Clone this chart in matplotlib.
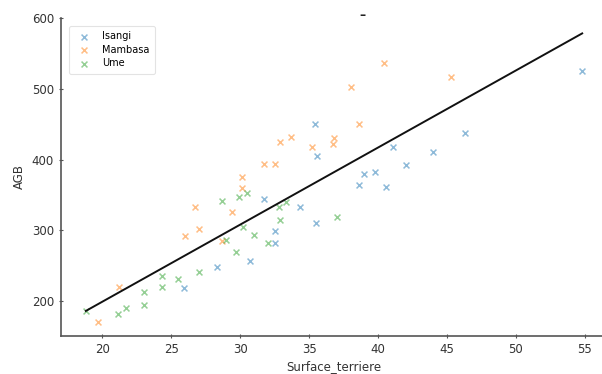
import numpy as np
import matplotlib
matplotlib.use("Agg")
import matplotlib.pyplot as plt

# values
isangi_x = [25.9, 28.3, 30.7, 31.7, 32.5, 32.5, 34.3, 35.4, 35.6, 35.5,
            38.6, 39.0, 39.8, 40.6, 41.1, 42.0, 44.0, 46.3, 54.8]
isangi_y = [218, 248, 256, 344, 282, 299, 333, 450, 405, 310,
            364, 379, 382, 361, 418, 392, 410, 437, 525]

mambasa_x = [19.7, 21.2, 26.0, 26.7, 27.0, 28.7, 29.4, 30.1, 30.1, 31.7, 32.5,
             32.9, 33.7, 35.2, 36.7, 36.8, 38.0, 38.6, 40.4, 45.3]
mambasa_y = [170, 219, 292, 333, 302, 285, 326, 360, 375, 393, 393,
             425, 432, 418, 422, 430, 502, 450, 537, 517]

ume_x = [18.8, 21.1, 21.7, 23.0, 23.0, 24.3, 24.3, 25.5, 27.0, 28.7, 29.0,
         29.7, 29.9, 30.2, 30.5, 31.0, 32.0, 32.8, 32.9, 33.3, 37.0]
ume_y = [185, 181, 190, 212, 194, 235, 220, 231, 241, 341, 286,
         269, 347, 304, 353, 293, 282, 333, 314, 340, 318]

# fitted line (slope / intercept)
fit_slope = 10.92
fit_intercept = -19.8

series = [("Isangi", isangi_x, isangi_y, "tab:blue"),
          ("Mambasa", mambasa_x, mambasa_y, "tab:orange"),
          ("Ume", ume_x, ume_y, "tab:green")]

fig = plt.figure(figsize=(6.02, 3.74), dpi=100)
W, H = 602, 374
ax = fig.add_axes([61 / W, 1 - 336 / H, (607 - 61) / W, (336 - 17.6) / H])

for name, xs, ys, col in series:
    ax.scatter(xs, ys, marker="x", s=18, color=col, alpha=0.5, linewidths=1.1, label=name)

all_x = np.array(isangi_x + mambasa_x + ume_x)
xl = np.array([all_x.min(), all_x.max()])
ax.plot(xl, fit_intercept + fit_slope * xl, color="#111111", lw=1.4)

ax.set_xlim(17.0, 56.6)
ax.set_ylim(150, 601)
ax.set_xticks([20, 25, 30, 35, 40, 45, 50, 55])
ax.set_yticks([200, 300, 400, 500, 600])

for s in ["top", "right"]:
    ax.spines[s].set_visible(False)
for s in ["left", "bottom"]:
    ax.spines[s].set_color("#555555")
    ax.spines[s].set_linewidth(1.2)
ax.tick_params(direction="inout", length=3, width=0.8, colors="#555555",
               labelcolor="#333333", labelsize=8.5)

ax.set_xlabel("Surface_terriere", fontsize=8.5, color="#333333", labelpad=3)
ax.set_ylabel("AGB", fontsize=8.5, color="#333333", labelpad=4)

leg = ax.legend(loc="upper left", fontsize=7, frameon=True, borderpad=0.6,
                handletextpad=0.8, labelspacing=0.35, bbox_to_anchor=(0.005, 0.99))
leg.get_frame().set_edgecolor("#dddddd")
leg.get_frame().set_linewidth(0.8)

fig.text(362 / W, 1 - 15 / H, "–", ha="center", va="center", fontsize=9,
         fontweight="bold", color="#222222")

fig.savefig("out.png", dpi=100)
